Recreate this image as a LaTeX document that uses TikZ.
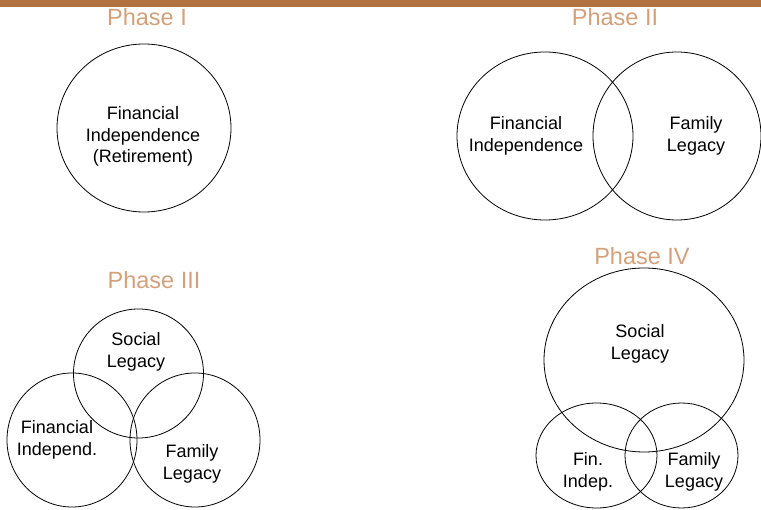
\documentclass[tikz,border=0pt]{standalone}
\usepackage{fontspec}
\setmainfont{Liberation Sans}
\usetikzlibrary{positioning}
\definecolor{bar}{RGB}{176,114,65}
\definecolor{phase}{RGB}{212,160,122}
\tikzset{
  ring/.style={draw=black,line width=0.8pt},
  lbl/.style={align=center,inner sep=0pt,font=\fontsize{18}{21.5}\selectfont},
  phasetitle/.style={inner sep=0pt,text=phase,font=\fontsize{23.5}{26}\selectfont}
}

\begin{document}
\begin{tikzpicture}[x=1pt,y=-1pt]
  \useasboundingbox (0,0) rectangle (761,510);
  \fill[bar] (0,0) rectangle (761,7);

  % phase titles
  \node[phasetitle] (t1) at (147,17) {Phase I};
  \node[phasetitle] (t2) at (615,17) {Phase II};
  \node[phasetitle] (t3) at (154,280) {Phase III};
  \node[phasetitle] (t4) at (642,256) {Phase IV};

  % phase I
  \draw[ring] (144,128) ellipse [x radius=87,y radius=84];
  \node[lbl] (p1fin) at (143,136.5) {Financial\\Independence\\(Retirement)};

  % phase II
  \draw[ring] (545,136) ellipse [x radius=88,y radius=84];
  \draw[ring] (677,136) ellipse [x radius=84,y radius=84];
  \node[lbl] (p2fin) at (526,136) {Financial\\Independence};
  \node[lbl] (p2fam) at (696,136) {Family\\Legacy};

  % phase III
  \draw[ring] (138.5,373.5) ellipse [x radius=65,y radius=64.5];
  \draw[ring] (72,440) ellipse [x radius=65,y radius=67];
  \draw[ring] (195,440) ellipse [x radius=65,y radius=67];
  \node[lbl] (p3soc) at (136,352) {Social\\Legacy};
  \node[lbl] (p3fin) at (57,440) {Financial\\Independ.};
  \node[lbl] (p3fam) at (192,464) {Family\\Legacy};

  % phase IV
  \draw[ring] (644,360) ellipse [x radius=100,y radius=92];
  \draw[ring] (596.5,455.5) ellipse [x radius=60.5,y radius=52.5];
  \draw[ring] (681.5,455.5) ellipse [x radius=56.5,y radius=52.5];
  \node[lbl] (p4soc) at (640,344) {Social\\Legacy};
  \node[lbl] (p4fin) at (588,472) {Fin.\\Indep.};
  \node[lbl] (p4fam) at (694,472) {Family\\Legacy};
\end{tikzpicture}
\end{document}
